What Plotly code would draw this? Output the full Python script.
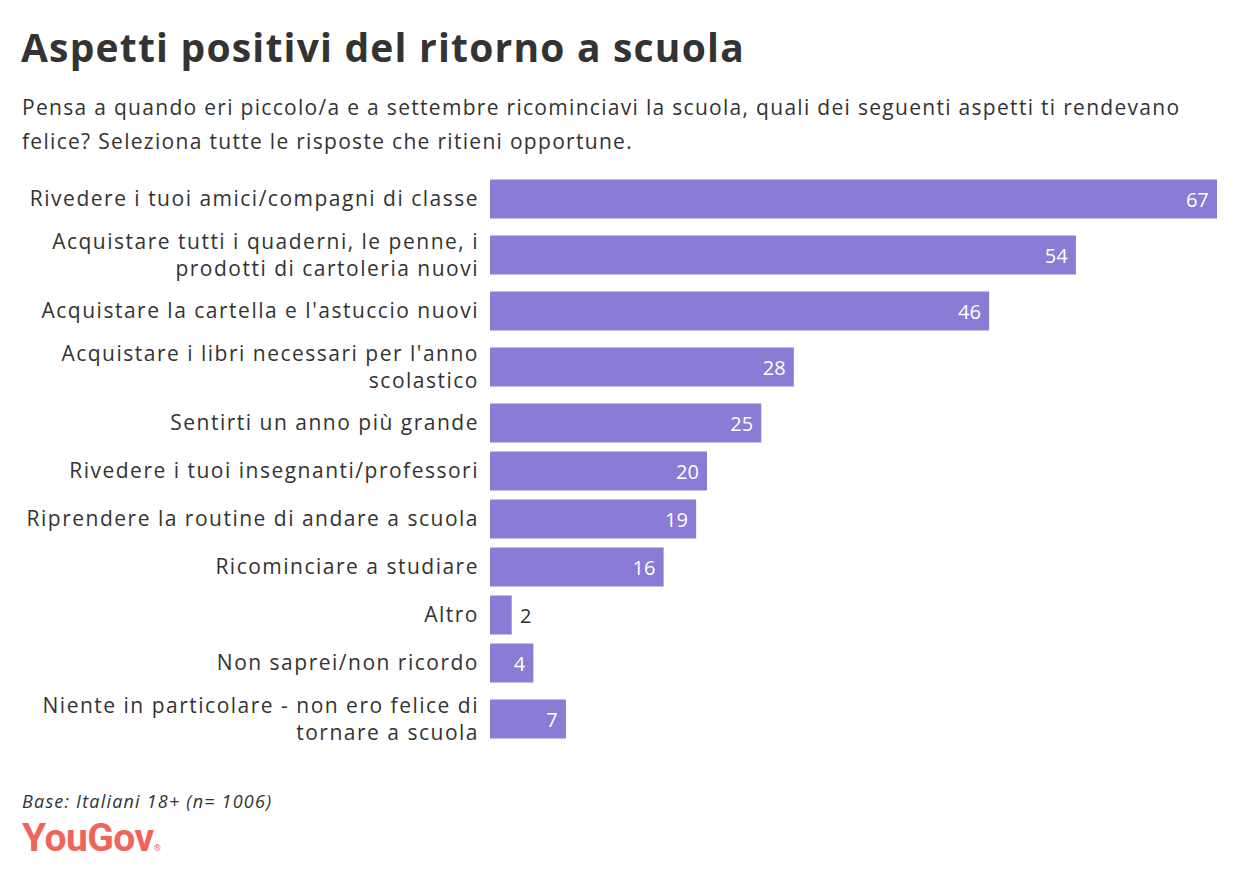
import plotly.graph_objects as go

categories = [
    "Rivedere i tuoi amici/compagni di classe",
    "Acquistare tutti i quaderni, le penne, i<br>prodotti di cartoleria nuovi",
    "Acquistare la cartella e l'astuccio nuovi",
    "Acquistare i libri necessari per l'anno<br>scolastico",
    "Sentirti un anno più grande",
    "Rivedere i tuoi insegnanti/professori",
    "Riprendere la routine di andare a scuola",
    "Ricominciare a studiare",
    "Altro",
    "Non saprei/non ricordo",
    "Niente in particolare - non ero felice di<br>tornare a scuola",
]
values = [67, 54, 46, 28, 25, 20, 19, 16, 2, 4, 7]

TITLE = "Aspetti positivi del ritorno a scuola"
SUB1 = "Pensa a quando eri piccolo/a e a settembre ricominciavi la scuola, quali dei seguenti aspetti ti rendevano"
SUB2 = "felice? Seleziona tutte le risposte che ritieni opportune."
FOOT = "Base: Italiani 18+ (n= 1006)"

FONT = "'Open Sans', sans-serif"
BAR = "#8a7bd4"
TXT = "#333333"
NB = "\u00a0"

W, H = 1240, 880
ML, MR, MT, MB = 490, 23, 175, 129


def spaced(s, ls):
    return "<br>".join(f"<span style='letter-spacing:{ls}px'>{part}</span>" for part in s.split("<br>"))


# row slot heights depend on number of label lines
slots = [48 if "<br>" not in c else 64 for c in categories]
centers = []
acc = 0
for s in slots:
    centers.append(acc + s / 2)
    acc += s
total = acc

positions = ["inside" if v >= 3 else "outside" for v in values]
labels = [f"{v}{NB}" if p == "inside" else f"{NB}{v}" for v, p in zip(values, positions)]

fig = go.Figure(go.Bar(
    x=values, y=centers, orientation="h", width=39,
    marker=dict(color=BAR, line=dict(width=0)),
    text=labels,
    textposition=positions,
    insidetextanchor="end",
    insidetextfont=dict(color="white", size=20, family=FONT),
    outsidetextfont=dict(color=TXT, size=20, family=FONT),
    constraintext="none", cliponaxis=False, hoverinfo="skip",
))

pw = W - ML - MR
ph = H - MT - MB
def px(x):
    return (x - ML) / pw
def py(y):
    return 1 - (y - MT) / ph

annos = [
    dict(text=f"<b>{spaced(TITLE, 1.2)}</b>", x=px(19), y=py(47), font=dict(size=39, color=TXT, family=FONT)),
    dict(text=spaced(SUB1, 1.3), x=px(20), y=py(107), font=dict(size=21, color=TXT, family=FONT)),
    dict(text=spaced(SUB2, 1.3), x=px(20), y=py(141), font=dict(size=21, color=TXT, family=FONT)),
    dict(text=f"<i>{spaced(FOOT, 1.2)}</i>", x=px(20), y=py(801), font=dict(size=18, color=TXT, family=FONT)),
    dict(text="<span style='letter-spacing:-0.5px'><b>YouGov</b></span><span style='font-size:9px'>®</span>",
         x=px(20), y=py(838), font=dict(size=39, color="#f0645a", family="Roboto, sans-serif")),
]
for a in annos:
    a.update(xref="paper", yref="paper", xanchor="left", yanchor="middle", showarrow=False)

fig.update_layout(
    width=W, height=H,
    margin=dict(l=ML, r=MR, t=MT, b=MB),
    paper_bgcolor="white", plot_bgcolor="white",
    showlegend=False,
    annotations=annos,
    xaxis=dict(range=[0, 67], visible=False, fixedrange=True),
    yaxis=dict(range=[total, 0], tickvals=centers, ticktext=[spaced(c, 1.5) for c in categories],
               showgrid=False, zeroline=False, showline=False, ticks="",
               ticklabelstandoff=10,
               tickfont=dict(size=21, color=TXT, family=FONT), fixedrange=True),
    font=dict(family=FONT, color=TXT),
)

fig.write_html("out.html", config={"displayModeBar": False})
